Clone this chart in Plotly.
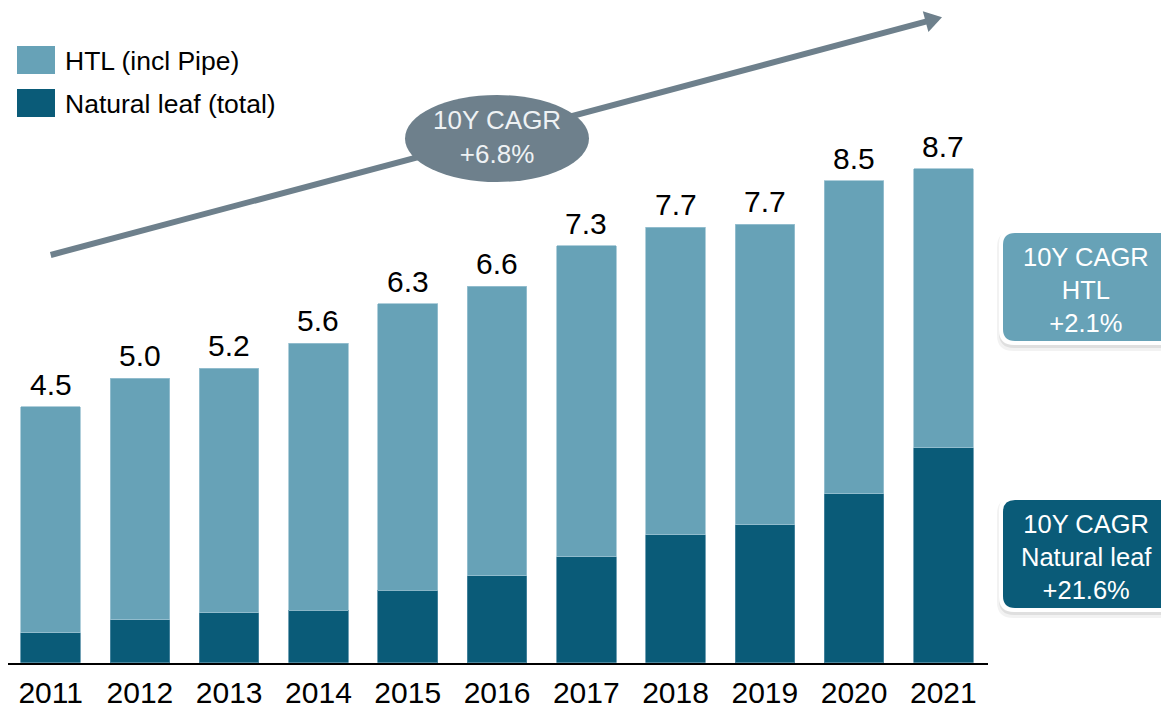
import plotly.graph_objects as go

# ---------------- data ----------------
years = ['2011', '2012', '2013', '2014', '2015', '2016', '2017', '2018', '2019', '2020', '2021']
natural_leaf = [0.53, 0.76, 0.88, 0.92, 1.28, 1.53, 1.87, 2.25, 2.43, 2.98, 3.79]
htl = [3.98, 4.25, 4.31, 4.71, 5.04, 5.10, 5.47, 5.42, 5.29, 5.51, 4.91]
total_labels = ['4.5', '5.0', '5.2', '5.6', '6.3', '6.6', '7.3', '7.7', '7.7', '8.5', '8.7']
series_names = ['HTL (incl Pipe)', 'Natural leaf (total)']
cagr_total = '10Y CAGR<br>+6.8%'
cagr_htl = '10Y CAGR<br>HTL<br>+2.1%'
cagr_nl = '10Y CAGR<br>Natural leaf<br>+21.6%'

# ---------------- style ----------------
OFF = 8                      # default page body margin
W, H = 1169 - OFF, 708 - OFF
C_HTL = '#67A2B7'
C_NL = '#0A5B78'
C_GREY = '#6E808C'
FONT = 'Liberation Sans, Arial, sans-serif'
BASE = 662.7                 # page y of baseline
PPU = 56.78                  # pixels per unit
X_LEFT, X_RIGHT = 6.0, 988.0  # page x of axis range ends (-0.5, 10.5)


def px(x, y):
    return (x - OFF) / W, 1 - (y - OFF) / H


def rounded_rect(x0, y0, x1, y1, r):
    def P(x, y):
        a, b = px(x, y)
        return f'{a:.5f},{b:.5f}'
    return (f'M{P(x0 + r, y0)} L{P(x1 - r, y0)} Q{P(x1, y0)} {P(x1, y0 + r)} '
            f'L{P(x1, y1 - r)} Q{P(x1, y1)} {P(x1 - r, y1)} '
            f'L{P(x0 + r, y1)} Q{P(x0, y1)} {P(x0, y1 - r)} '
            f'L{P(x0, y0 + r)} Q{P(x0, y0)} {P(x0 + r, y0)} Z')


fig = go.Figure()
fig.add_trace(go.Bar(x=years, y=natural_leaf, name=series_names[1],
                     marker=dict(color=C_NL, line=dict(width=0.8, color='#4F8AA2'))))
fig.add_trace(go.Bar(x=years, y=htl, name=series_names[0],
                     marker=dict(color=C_HTL, line=dict(width=0.8, color='#9CC3D2'))))

totals = [a + b for a, b in zip(natural_leaf, htl)]
annotations = []
for i, (t, lab) in enumerate(zip(totals, total_labels)):
    annotations.append(dict(x=i, y=t, xref='x', yref='y', text=lab, showarrow=False,
                            xanchor='center', yanchor='bottom', yshift=4,
                            font=dict(family=FONT, size=30, color='#000000')))

shapes = []
# trend arrow
sx, sy = 50.7, 255.0
tx, ty = 942.0, 17.3
bx, by = 925.6, 21.7
a0, a1 = px(sx, sy), px(bx + 3, by - 0.8)
shapes.append(dict(type='line', xref='paper', yref='paper',
                   x0=a0[0], y0=a0[1], x1=a1[0], y1=a1[1],
                   line=dict(color=C_GREY, width=6), layer='above'))
p1, p2, p3 = px(tx, ty), px(928.4, 32.0), px(922.8, 11.2)
shapes.append(dict(type='path', xref='paper', yref='paper',
                   path=f'M{p1[0]:.5f},{p1[1]:.5f} L{p2[0]:.5f},{p2[1]:.5f} L{p3[0]:.5f},{p3[1]:.5f} Z',
                   fillcolor=C_GREY, line=dict(width=0), layer='above'))
# ellipse
e0, e1 = px(405, 182), px(589, 95)
shapes.append(dict(type='circle', xref='paper', yref='paper', x0=e0[0], y0=e0[1], x1=e1[0], y1=e1[1],
                   fillcolor=C_GREY, line=dict(width=0), layer='above'))
c = px(497, 137)
annotations.append(dict(x=c[0], y=c[1], xref='paper', yref='paper',
                        text=cagr_total, showarrow=False, xanchor='center', yanchor='middle',
                        font=dict(family=FONT, size=26, color='#EEF2F4')))

# right boxes
for (y0, y1, col, txt, ty_c) in [(233, 341, C_HTL, cagr_htl, 290), (500, 608, C_NL, cagr_nl, 557)]:
    x0, x1 = 1003, 1176
    shapes.append(dict(type='path', xref='paper', yref='paper',
                       path=rounded_rect(x0 - 6, y0 - 2, x1 + 6, y1 + 10, 16),
                       fillcolor='rgba(0,0,0,0.05)', line=dict(width=0), layer='above'))
    shapes.append(dict(type='path', xref='paper', yref='paper',
                       path=rounded_rect(x0 - 4, y0 - 1, x1 + 4, y1 + 7, 15),
                       fillcolor='rgba(0,0,0,0.08)', line=dict(width=0), layer='above'))
    shapes.append(dict(type='path', xref='paper', yref='paper',
                       path=rounded_rect(x0 - 4, y0 - 4, x1 + 4, y1 + 4, 15),
                       fillcolor='#FFFFFF', line=dict(width=0), layer='above'))
    shapes.append(dict(type='path', xref='paper', yref='paper',
                       path=rounded_rect(x0, y0, x1, y1, 12),
                       fillcolor=col, line=dict(width=0), layer='above'))
    c = px(1086, ty_c)
    annotations.append(dict(x=c[0], y=c[1], xref='paper', yref='paper', text=txt, showarrow=False,
                            xanchor='center', yanchor='middle',
                            font=dict(family=FONT, size=25.5, color='#FFFFFF')))

# legend (custom swatches)
for i, (name, col) in enumerate([(series_names[0], C_HTL), (series_names[1], C_NL)]):
    top = 46 + i * 43
    a, b = px(17, top), px(55, top + 28)
    shapes.append(dict(type='rect', xref='paper', yref='paper', x0=a[0], y0=b[1], x1=b[0], y1=a[1],
                       fillcolor=col, line=dict(width=0)))
    t = px(63, top + 15)
    annotations.append(dict(x=t[0], y=t[1], xref='paper', yref='paper', text=name, showarrow=False,
                            xanchor='left', yanchor='middle',
                            font=dict(family=FONT, size=26.5, color='#000000')))

unit_px = (X_RIGHT - X_LEFT) / 11.0
x_start = -0.5 + (OFF - X_LEFT) / unit_px

fig.update_layout(
    width=W, height=H,
    margin=dict(l=0, r=0, t=0, b=0),
    barmode='stack', bargap=0.333,
    showlegend=False,
    plot_bgcolor='#FFFFFF', paper_bgcolor='#FFFFFF',
    xaxis=dict(domain=[0, (X_RIGHT - OFF) / W], range=[x_start, 10.5], type='category',
               showline=True, linecolor='#000000', linewidth=2, ticks='',
               showgrid=False, zeroline=False, ticklabelstandoff=2,
               tickfont=dict(family=FONT, size=30, color='#000000'), automargin=False),
    yaxis=dict(domain=[1 - (BASE - OFF) / H, 1], range=[0, (BASE - OFF) / PPU], visible=False,
               showgrid=False, zeroline=False, automargin=False),
    shapes=shapes,
    annotations=annotations,
)

fig.write_html('out.html')
